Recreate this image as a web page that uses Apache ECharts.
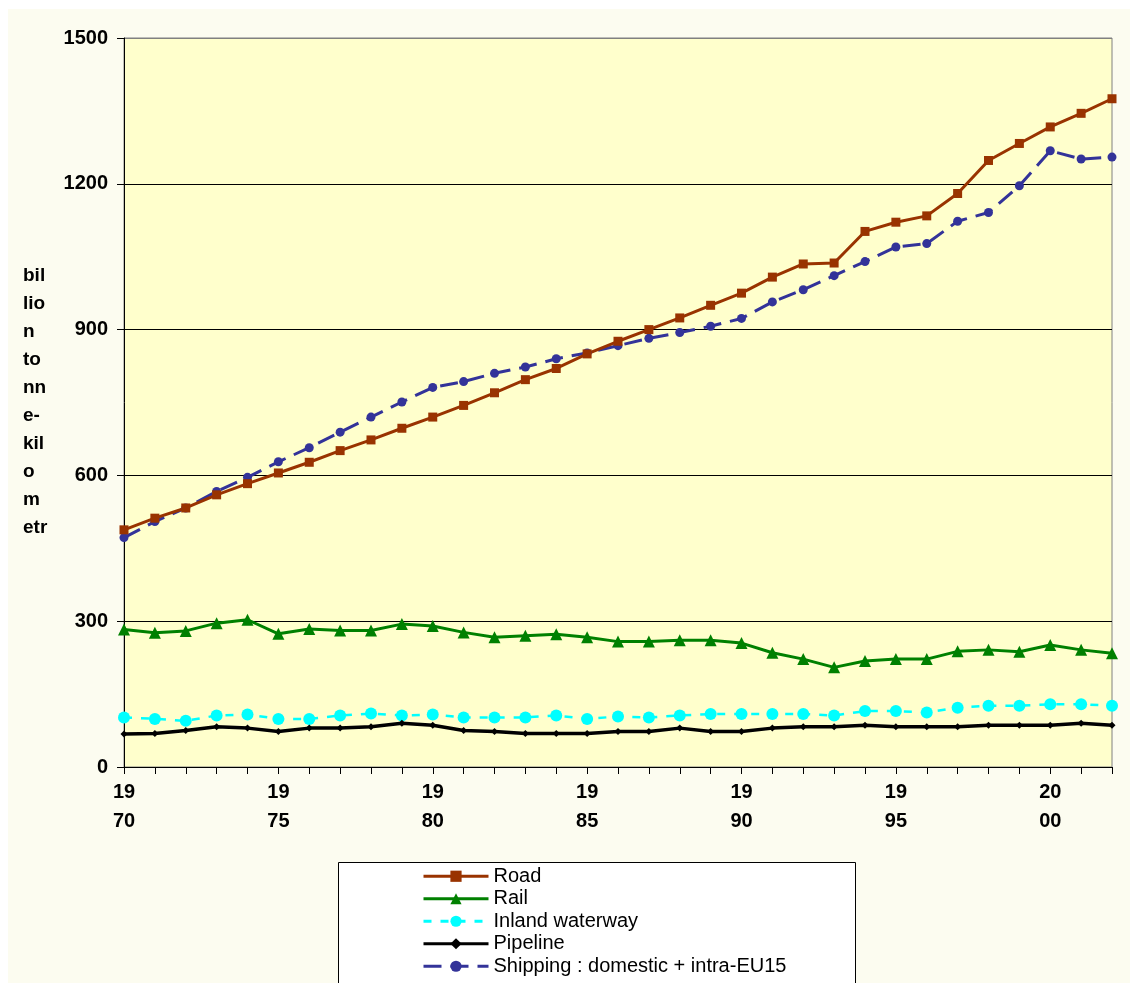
<!DOCTYPE html>
<html>
<head>
<meta charset="utf-8">
<script src="https://cdn.jsdelivr.net/npm/echarts@6/dist/echarts.min.js"></script>
<style>
  html, body { margin: 0; padding: 0; background: #ffffff; }
  #bg { position: absolute; left: 8px; top: 9px; width: 1122px; height: 974px; background: #FCFCF0; }
  #chart { position: absolute; left: 0; top: 0; width: 1130px; height: 983px; }
</style>
</head>
<body>
<div id="bg"></div>
<div id="chart"></div>
<script>
const years = ['1970','1971','1972','1973','1974','1975','1976','1977','1978','1979',
  '1980','1981','1982','1983','1984','1985','1986','1987','1988','1989',
  '1990','1991','1992','1993','1994','1995','1996','1997','1998','1999',
  '2000','2001','2002'];
const road = [488,512,533,560,583,605,627,651,673,697,
  720,744,770,797,820,850,876,900,924,950,
  975,1008,1035,1037,1102,1121,1134,1180,1248,1283,
  1317,1345,1375];
const rail = [283,276,280,296,303,274,284,281,281,294,
  290,277,267,270,273,267,258,258,261,261,
  255,235,222,205,218,222,222,238,241,237,
  251,241,234];
const inland = [102,99,95,106,108,99,99,106,110,106,
  108,102,102,102,106,99,104,102,106,109,
  109,109,109,106,115,115,112,122,126,126,
  129,129,126];
const pipeline = [68,69,75,83,80,73,80,80,83,90,
  86,75,73,69,69,69,73,73,80,73,
  73,80,83,83,86,83,83,83,86,86,
  86,90,86];
const shipping = [472,505,533,567,596,628,657,689,720,751,
  781,793,810,823,840,852,867,882,894,907,
  923,957,982,1011,1040,1070,1077,1123,1141,1196,
  1268,1251,1255];
const seriesNames = ['Road','Rail','Inland waterway','Pipeline','Shipping : domestic + intra-EU15'];
const yAxisTitle = 'bil\nlio\nn\nto\nnn\ne-\nkil\no\nm\netr';

const chart = echarts.init(document.getElementById('chart'));
const font = 'Arial, "Liberation Sans", sans-serif';
chart.setOption({
  backgroundColor: 'transparent',
  animation: false,
  title: {
    text: yAxisTitle, left: 23, top: 262, padding: 0,
    textStyle: { fontFamily: font, fontWeight: 'bold', fontSize: 19, lineHeight: 28, color: '#000' }
  },
  grid: {
    left: 124, right: 18, top: 38, bottom: 216,
    show: true, backgroundColor: '#FFFFCC', borderColor: '#808080', borderWidth: 1
  },
  graphic: [{
    type: 'rect', left: 338, top: 862, z: 1,
    shape: { width: 517, height: 140 },
    style: { fill: '#ffffff', stroke: '#000000', lineWidth: 1 }
  }],
  legend: {
    orient: 'vertical', left: 422, top: 865, z: 10, padding: 0,
    itemWidth: 65, itemHeight: 14, itemGap: 0, height: 115,
    lineStyle: { width: 3 },
    textStyle: { fontFamily: font, fontSize: 20, lineHeight: 22.5, color: '#000', padding: [0, 0, 0, 0] },
    data: seriesNames
  },
  xAxis: {
    type: 'category', data: years, boundaryGap: false,
    axisLine: { lineStyle: { color: '#000', width: 1 } },
    axisTick: { show: true, interval: 0, length: 7, lineStyle: { color: '#000' } },
    axisLabel: {
      interval: 4, margin: 11, color: '#000', fontFamily: font, fontWeight: 'bold',
      fontSize: 20, lineHeight: 29,
      formatter: v => v.slice(0, 2) + '\n' + v.slice(2)
    },
    splitLine: { show: false }
  },
  yAxis: {
    type: 'value', min: 0, max: 1500, interval: 300,
    axisLine: { show: true, lineStyle: { color: '#000', width: 1 } },
    axisTick: { show: true, length: 7, lineStyle: { color: '#000' } },
    axisLabel: { margin: 16, color: '#000', fontFamily: font, fontWeight: 'bold', fontSize: 20,
      formatter: v => String(v) },
    splitLine: { show: true, lineStyle: { color: ['#000','#000','#000','#000','#000','#808080'], width: 1 } }
  },
  series: [
    { name: seriesNames[4], type: 'line', data: shipping, symbol: 'circle', symbolSize: 9,
      lineStyle: { color: '#333399', width: 3, type: [18, 9] }, itemStyle: { color: '#333399' } },
    { name: seriesNames[0], type: 'line', data: road, symbol: 'rect', symbolSize: 9,
      lineStyle: { color: '#993300', width: 3 }, itemStyle: { color: '#993300' } },
    { name: seriesNames[1], type: 'line', data: rail, symbol: 'triangle', symbolSize: 12,
      lineStyle: { color: '#008000', width: 3 }, itemStyle: { color: '#008000' } },
    { name: seriesNames[2], type: 'line', data: inland, symbol: 'circle', symbolSize: 12,
      lineStyle: { color: '#00FFFF', width: 2.5, type: [8, 9] }, itemStyle: { color: '#00FFFF' } },
    { name: seriesNames[3], type: 'line', data: pipeline, symbol: 'diamond', symbolSize: 7,
      lineStyle: { color: '#000000', width: 3.5 }, itemStyle: { color: '#000000' } }
  ]
});
</script>
</body>
</html>
